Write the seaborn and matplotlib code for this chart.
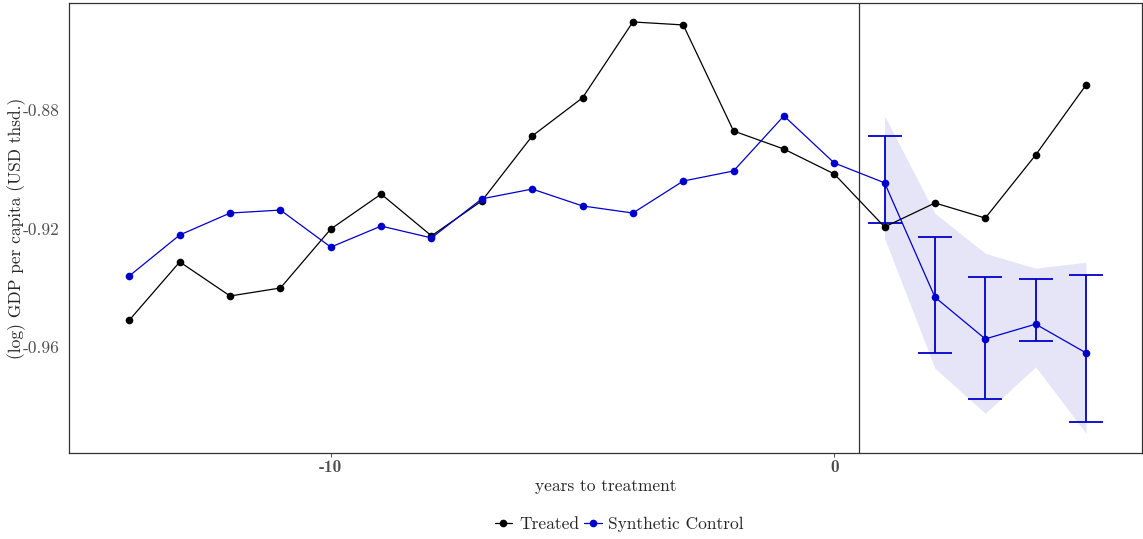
import numpy as np
import pandas as pd
import matplotlib
matplotlib.use('Agg')
import matplotlib.pyplot as plt
import seaborn as sns

# podaci ocitani sa slike
years = list(range(-14, 6))
treated = [-0.9509, -0.9313, -0.9428, -0.9401, -0.9202, -0.9084, -0.9225, -0.9107,
           -0.8888, -0.8759, -0.8503, -0.8513, -0.8871, -0.8932, -0.9016, -0.9195,
           -0.9114, -0.9165, -0.8952, -0.8716]
synthetic = [-0.9360, -0.9222, -0.9148, -0.9138, -0.9263, -0.9192, -0.9232, -0.9100,
             -0.9067, -0.9124, -0.9148, -0.9040, -0.9006, -0.8820, -0.8979, -0.9046,
             -0.9432, -0.9573, -0.9523, -0.9620]

# intervali nakon tretmana
post_years = [1, 2, 3, 4, 5]
err_low = [-0.9181, -0.9621, -0.9776, -0.9579, -0.9853]
err_high = [-0.8889, -0.9229, -0.9364, -0.9371, -0.9357]
band_low = [-0.9233, -0.9672, -0.9824, -0.9667, -0.9891]
band_high = [-0.8820, -0.9149, -0.9284, -0.9334, -0.9314]

df = pd.DataFrame({
    'years': years * 2,
    'gdp': treated + synthetic,
    'group': ['Treated'] * len(years) + ['Synthetic Control'] * len(years),
})

sns.set_theme(style='white')
plt.rcParams['font.family'] = ['cmr10', 'DejaVu Serif']
plt.rcParams['axes.unicode_minus'] = False
plt.rcParams['axes.formatter.use_mathtext'] = True

fig, ax = plt.subplots(figsize=(11.43, 5.39), dpi=100)
fig.subplots_adjust(left=69 / 1143, right=0.999, top=1 - 3 / 539, bottom=1 - 453 / 539)

blue = '#0000cd'

# pojas i stupci pogreske
ax.fill_between(post_years, band_low, band_high, color='#e5e5f7', lw=0, zorder=1)
mid = [(a + b) / 2 for a, b in zip(err_low, err_high)]
half = [(b - a) / 2 for a, b in zip(err_low, err_high)]
ax.errorbar(post_years, mid, yerr=half, fmt='none', ecolor=blue, elinewidth=1.3,
            capsize=12, capthick=1.3, zorder=2)

sns.lineplot(data=df, x='years', y='gdp', hue='group', marker='o', markersize=5.5,
             markeredgewidth=0, linewidth=0.9, palette={'Treated': 'black', 'Synthetic Control': blue},
             hue_order=['Treated', 'Synthetic Control'], ax=ax, zorder=3)

ax.axvline(0.5, color='#333333', lw=0.9)

ax.set_xlim(-15.2, 6.11)
ax.set_ylim(-0.9958, -0.8439)
ax.set_xticks([-10, 0])
ax.set_xticklabels(['-10', '0'], fontfamily='cmb10')
ax.set_yticks([-0.96, -0.92, -0.88])
ax.set_yticklabels(['-0.96', '-0.92', '-0.88'])
ax.tick_params(axis='x', bottom=True, length=3, width=0.6, color='#333333', labelsize=12.5,
               labelcolor='#4d4d4d', pad=2)
ax.tick_params(axis='y', left=False, labelsize=12.5, labelcolor='#4d4d4d', pad=1)

for s in ax.spines.values():
    s.set_color('#333333')
    s.set_linewidth(0.9)

ax.set_xlabel('years to treatment', fontsize=12.5, labelpad=3)
ax.set_ylabel('(log) GDP per capita (USD thsd.)', fontsize=12.5, labelpad=2)
ax.yaxis.set_label_coords(-0.0405, 0.5)

sns.move_legend(ax, 'center', bbox_to_anchor=(0.513, -0.158), ncol=2, frameon=False,
                title=None, fontsize=12.5, handlelength=1.0, columnspacing=0.3, handletextpad=0.4)

plt.savefig('out.png', dpi=100)
